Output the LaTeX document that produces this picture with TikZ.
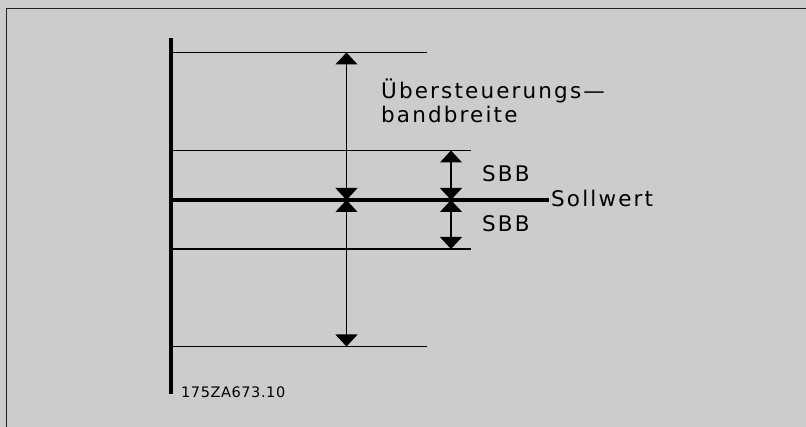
\documentclass[tikz,border=0pt]{standalone}
\usepackage{fontspec}
\usetikzlibrary{arrows.meta}
\newfontfamily\lblfont[LetterSpace=10]{DejaVu Sans}
\newfontfamily\codefont[LetterSpace=4]{DejaVu Sans}
\definecolor{bggray}{HTML}{CCCCCC}
\definecolor{frame}{HTML}{1E1E1E}
\tikzset{
  thinline/.style={line width=1.3pt, black},
  axisline/.style={line width=3.8pt, black},
  dimarrow/.style={line width=1.1pt, black, {Triangle[width=22pt,length=12pt]}-{Triangle[width=22pt,length=12pt]}, shorten <=0pt, shorten >=0pt},
  lbl/.style={inner sep=0pt, anchor=base west, font=\lblfont\fontsize{21.5}{24}\selectfont},
  codelbl/.style={inner sep=0pt, anchor=base west, font=\codefont\fontsize{14.5}{16}\selectfont},
}
\begin{document}
\begin{tikzpicture}[x=1pt,y=-1pt]
  \fill[bggray] (0,0) rectangle (806,427);
  \useasboundingbox (0,0) rectangle (806,427);
  % frame
  \coordinate (fc) at (6.5,8.5);
  \coordinate (fr) at (806,8.5);
  \coordinate (fb) at (6.5,427);
  \draw[line width=1.4pt, frame] (fb) -- (fc) -- (fr);
  % axis
  \coordinate (axtop) at (171,38);
  \coordinate (axbot) at (171,394);
  \draw[axisline] (axtop) -- (axbot);
  % horizontal lines
  \coordinate (l1a) at (172,52.5);  \coordinate (l1b) at (427,52.5);
  \coordinate (l2a) at (172,150.5); \coordinate (l2b) at (471,150.5);
  \coordinate (l0a) at (172,200);   \coordinate (l0b) at (549,200);
  \coordinate (l3a) at (172,249);   \coordinate (l3b) at (471,249);
  \coordinate (l4a) at (172,346.5); \coordinate (l4b) at (427,346.5);
  \draw[thinline] (l1a) -- (l1b);
  \draw[thinline] (l2a) -- (l2b);
  \draw[line width=3.8pt] (l0a) -- (l0b);
  \draw[thinline] (l3a) -- (l3b);
  \draw[thinline] (l4a) -- (l4b);
  % arrow anchor points
  \coordinate (bA) at (346.5,52.5);
  \coordinate (bM) at (346.5,200);
  \coordinate (bB) at (346.5,346.5);
  \coordinate (sA) at (451,150.5);
  \coordinate (sM) at (451,200);
  \coordinate (sB) at (451,249);
  \draw[dimarrow] (bA) -- (bM);
  \draw[dimarrow] (bM) -- (bB);
  \draw[dimarrow] (sA) -- (sM);
  \draw[dimarrow] (sM) -- (sB);
  % labels
  \node[lbl] (ueb) at (381,99) {Übersteuerungs—};
  \node[lbl] (band) at (381,123) {bandbreite};
  \node[lbl] (sbb1) at (482,182) {SBB};
  \node[lbl] (sbb2) at (482,232) {SBB};
  \node[lbl] (soll) at (551,207) {Sollwert};
  \node[codelbl] (code) at (181,398) {175ZA673.10};
\end{tikzpicture}
\end{document}
